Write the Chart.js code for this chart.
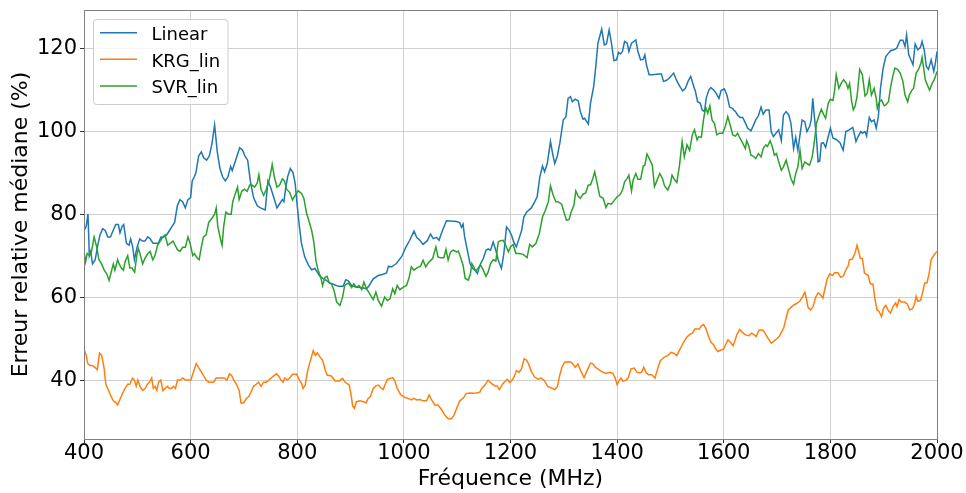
<!DOCTYPE html>
<html>
<head>
<meta charset="utf-8">
<script src="https://cdn.jsdelivr.net/npm/chart.js@4"></script>
<style>
  html, body { margin: 0; padding: 0; background: #fff; }
  canvas { display: block; }
</style>
</head>
<body>
<canvas id="chart" width="966" height="493"></canvas>
<script>
// axis ticks
const xTicks = [400, 600, 800, 1000, 1200, 1400, 1600, 1800, 2000];
const yTicks = [40, 60, 80, 100, 120];
const seriesNames = ['Linear', 'KRG_lin', 'SVR_lin'];

// [frequency MHz, median relative error %]
const linear = [
  [400, 76], [404, 77], [407.5, 80], [410, 70], [412.5, 71], [416, 68], [421, 69], [425, 72], [430, 75], [435, 76.5],
  [440, 76], [444.5, 74.5], [449.5, 74.5], [454.5, 76], [459.5, 77.5], [464.5, 77.5], [467.5, 75.5], [471.5, 77], [474.5, 77.5], [479.5, 73],
  [484.5, 72.5], [487.5, 74], [491.5, 72], [494.5, 69], [499.5, 72], [504.5, 74], [509.5, 73.5], [514.5, 73.5], [519.5, 74.5], [524.5, 74],
  [529.5, 73], [539.5, 73], [544.5, 74.5], [549.5, 74.5], [555, 75], [560, 76], [565, 77], [570, 78], [575, 82], [580, 83.5],
  [585, 83], [590, 81.5], [595, 83.5], [600, 84], [603, 88], [607, 89], [610, 90], [615, 94], [620, 95], [625, 93.5],
  [630, 93], [635, 94], [640, 97], [645, 101.5], [650, 95], [655, 91], [660, 89], [665, 88], [670, 89], [675, 91.5],
  [678, 90.5], [682, 92], [687, 94], [692, 96], [697, 95.5], [702, 94], [707, 93], [712, 88], [718, 84], [725, 82],
  [731, 81.5], [740, 81], [745, 88], [750, 86.5], [756, 84], [762, 81.5], [767, 82.5], [772, 83.5], [775, 83], [778, 86],
  [782, 89], [787, 91], [792, 90], [796, 87.5], [800, 82], [804, 77], [808, 72.9], [814, 69.7], [821, 67.7], [827, 66.6],
  [833, 66.9], [837.5, 66], [842.5, 65], [849, 64.4], [855, 64], [861, 63.4], [867.5, 63.1], [877, 62.6], [886, 62.6], [891, 64.2],
  [895.6, 63.9], [902, 62.8], [911, 62.4], [921, 62.3], [930, 62], [935, 62.8], [942.5, 64.4], [952, 65.2], [961, 65.5], [967.5, 65.8],
  [971, 67.4], [977, 67.3], [986, 68.1], [996, 69.8], [1004, 72.1], [1011, 73.7], [1019, 75.9], [1024, 74.4], [1030, 73.7], [1036, 72.7],
  [1044, 73.6], [1050, 75.2], [1055, 74.1], [1061, 74.4], [1066, 73.7], [1072.5, 76.1], [1080, 78.4], [1092.5, 78.3], [1099, 78.2], [1105, 77.9],
  [1108, 76.8], [1111, 77.6], [1114, 74.5], [1119, 71.3], [1124, 68.1], [1129, 66.9], [1133, 66.5], [1138, 65.7], [1142.5, 67.7], [1149, 69.3],
  [1154, 71.3], [1158, 71.6], [1162.5, 71.3], [1167.5, 73.3], [1172.5, 71.3], [1177, 68.9], [1183, 66.9], [1187.5, 70.5], [1192.5, 76.9], [1197.5, 76.1],
  [1202, 74.9], [1206, 73.3], [1211, 72.1], [1216, 74.1], [1221, 76.1], [1225, 79.3], [1231, 80.6], [1239, 81.5], [1245.6, 83], [1250, 84.2],
  [1255, 89], [1260, 91.6], [1264, 90.2], [1269, 92.2], [1275, 97.5], [1279, 94.6], [1283, 92.2], [1287.5, 93.8], [1292.5, 97.1], [1299, 102.7],
  [1304, 103.5], [1308, 107.9], [1312.5, 108.3], [1316, 107.1], [1321, 107.7], [1327, 107.3], [1331, 104.7], [1336, 102.9], [1339, 103.1], [1346, 101.7],
  [1350, 106.7], [1356, 110.7], [1360, 115.6], [1364, 121.2], [1371, 124.6], [1376, 120.8], [1380, 121], [1385, 124.4], [1389, 121.5], [1394, 117],
  [1399, 117.2], [1402.5, 119], [1406, 118.6], [1410, 119.2], [1414, 121.6], [1419, 121.2], [1422, 119.2], [1427, 121.2], [1431, 121.6], [1435, 122],
  [1439, 119.2], [1444, 117.2], [1449, 117.3], [1452, 118.4], [1455, 116], [1460, 113.6], [1467, 113.6], [1477, 113.8], [1483, 113.8], [1487, 112],
  [1492, 112.2], [1498, 112.8], [1506, 114], [1511, 112.4], [1517, 110.9], [1523, 109.7], [1528, 110.3], [1533, 112], [1538, 113.2], [1542, 111.5],
  [1547, 109.5], [1551, 107.1], [1556, 106.7], [1559.5, 105.1], [1564, 104.7], [1567, 107.9], [1572, 109.9], [1576, 110.5], [1581, 109.9], [1586, 109.1],
  [1591, 107.9], [1595, 109.8], [1601, 110.2], [1606, 108.7], [1611, 105.8], [1616, 105.5], [1622, 104.7], [1626, 103.9], [1630.5, 103.3], [1635.5, 103.3],
  [1640.5, 102], [1645, 100.7], [1651, 100.1], [1655, 101.2], [1660, 102.7], [1665, 103.7], [1670, 105.8], [1674, 104.1], [1679, 105.1], [1685, 105.1],
  [1689, 99.9], [1693, 98.7], [1698, 99.5], [1703, 100.3], [1708, 97.7], [1712, 103.9], [1717, 104.7], [1722, 103.9], [1726, 101.9], [1731, 95.8],
  [1735, 98.5], [1739, 95.4], [1743, 99.1], [1747, 102.7], [1752, 102.3], [1756, 99.9], [1761, 101.1], [1764, 102.7], [1767, 107.9], [1770, 103.5],
  [1774, 98.3], [1777, 92.6], [1780, 92.8], [1783, 97.1], [1787, 97.2], [1791, 96.1], [1796, 98.7], [1800, 100.7], [1805, 98.3], [1811, 98],
  [1818, 97.2], [1824, 95.4], [1829, 99.9], [1835, 100.3], [1842, 100.9], [1844, 99.9], [1848, 97.5], [1852, 98.7], [1857, 99.9], [1860, 99.5],
  [1865, 99.9], [1868, 98.8], [1873, 103.3], [1877, 102.3], [1882, 102.7], [1886, 100.7], [1890, 103.5], [1894, 110.3], [1899, 115.2], [1904, 118],
  [1909, 118.8], [1913, 119.4], [1919, 119.6], [1924.5, 120], [1931, 121.9], [1936, 121.9], [1940, 120.4], [1943, 123.2], [1947, 118.4], [1951, 117.2],
  [1955, 116], [1959, 121], [1964, 119.6], [1969, 120.2], [1972, 121.6], [1976, 119.6], [1980, 115.6], [1984, 114.9], [1989, 117.2], [1994, 114.4],
  [1997, 116.4], [2000, 119.2]
];

const krgLin = [
  [400, 47.5], [404, 46], [407, 44], [411, 43.5], [416, 43.5], [421, 43], [425, 42.5], [429, 46.5], [433, 46], [437.5, 43],
  [441, 39], [446, 37.5], [451, 36], [455, 35], [460, 34.5], [463, 34], [468, 35.5], [473, 37], [477, 38], [482, 39],
  [486, 39], [491, 40.5], [494.5, 40], [498, 38.5], [501, 40], [505, 38.5], [510, 37.5], [515, 38], [519, 39], [523, 39.5],
  [527, 40.5], [530, 38], [533.5, 38.5], [536.5, 37.5], [540, 39.5], [544, 40], [548, 37.5], [552, 38], [556.5, 38.5], [560, 38],
  [563.5, 38], [568, 38.5], [571.5, 38], [575.5, 40], [580.5, 40], [585.5, 40.5], [590, 40], [596, 40], [600.5, 40], [605.5, 42],
  [610.5, 44], [615, 43], [620, 42], [624.5, 41], [629, 40], [634, 39.5], [639, 39.5], [643, 39.5], [648, 40.5], [652.5, 40.5],
  [657.5, 40.5], [663, 40.5], [668, 40], [673, 41.5], [677.5, 41], [681, 40], [686, 39], [691, 37.5], [694.5, 34.5], [699.5, 34.5],
  [704, 35.5], [709, 36], [713, 37], [718, 38.5], [723, 39], [727.5, 39.5], [732, 38.5], [737, 39.5], [741.5, 39.5], [746.5, 40],
  [751, 40.5], [756, 41], [761, 41.5], [765, 41], [769.5, 40], [773.5, 39.5], [776.5, 40.5], [781, 40], [786, 40.5], [791, 41.4],
  [799, 41.4], [804, 40], [808, 39.2], [811, 38], [815, 38.8], [819, 42], [824, 44.4], [830, 47.1], [834, 46], [837.5, 46.6],
  [842.5, 45.6], [847.5, 44.8], [852, 42.6], [856, 41.2], [864, 41], [871, 39.8], [879, 39.8], [885, 40.4], [889, 39.6], [897.5, 38.8],
  [901, 36.4], [904, 33.7], [907, 33.2], [911, 34.8], [917.5, 35], [924, 34.8], [929, 34.5], [933, 35.6], [937.5, 36.1], [942.5, 38],
  [947.5, 38.6], [952.5, 38.8], [956, 38.2], [961, 37.7], [969, 40.2], [974, 40.4], [979, 40.6], [983, 39.8], [987.5, 38], [994, 36.5],
  [1002, 35.8], [1008, 35.6], [1014, 35.2], [1019, 35.6], [1024, 35.2], [1030, 35.3], [1036, 35], [1042.5, 35], [1047.5, 36.4], [1052, 35.2],
  [1058, 34], [1064, 34], [1071, 32.8], [1077, 31.5], [1083, 30.7], [1089, 30.7], [1094, 31.5], [1099, 33.2], [1105, 35], [1111, 35.6],
  [1117.5, 36.8], [1124, 36.9], [1130, 36.8], [1136, 36.9], [1142.5, 37.1], [1146, 38], [1152, 38.8], [1158, 40], [1164, 39.2], [1171, 38.6],
  [1175, 38.6], [1179, 37.7], [1186, 39.2], [1194, 40.2], [1199, 39.4], [1203, 40], [1207, 40.8], [1211, 42.3], [1216, 41.9], [1220.5, 42.7],
  [1225.5, 45.1], [1230, 44.8], [1234, 43.9], [1239, 42.1], [1245, 40.8], [1252, 40.2], [1258, 40.5], [1264, 39.8], [1270, 38.4], [1277, 38.1],
  [1283, 37.7], [1288, 38.4], [1292, 41], [1296.5, 43.1], [1301.5, 44.3], [1308, 44.4], [1314, 44.3], [1321.5, 43.1], [1326.5, 43.9], [1331.5, 42.3],
  [1338, 40.6], [1344, 42.4], [1350, 44.1], [1354.5, 43.9], [1359, 43.1], [1364, 42.7], [1370, 42.1], [1379, 41.6], [1386, 41.9], [1392, 41.6],
  [1396, 40.6], [1400, 38.9], [1404, 40], [1407.5, 40.5], [1411, 39.7], [1417, 40], [1421, 40.6], [1426, 42.7], [1432, 42.9], [1437, 41.9],
  [1442, 41.7], [1446, 41.9], [1450, 43.1], [1454, 41.9], [1459, 41.3], [1465, 41.3], [1471, 40.5], [1476, 42.7], [1481, 44.7], [1488, 45.5],
  [1495, 45.9], [1501, 46.7], [1507, 46.4], [1512, 45.9], [1516.5, 47.1], [1523, 48.7], [1529, 50.1], [1535, 50.9], [1541, 51.3], [1546, 52.3],
  [1554, 52.3], [1558, 53.1], [1562, 53.4], [1566, 52.6], [1571, 50.7], [1576, 49.1], [1581, 48.5], [1585, 47.5], [1589, 46.9], [1594, 47.2],
  [1600, 47.5], [1604, 48.7], [1608, 49.7], [1612.5, 49.1], [1617.5, 48.3], [1621, 49.5], [1625, 51.1], [1630, 52.2], [1635, 51.5], [1641, 50.9],
  [1647.5, 50.7], [1652, 51.3], [1656, 51], [1661, 50.5], [1666, 52], [1671, 52.1], [1675, 51.8], [1680, 50.7], [1685, 49.7], [1689, 48.9],
  [1694, 49.4], [1699, 49.9], [1704, 50.5], [1708, 51.5], [1712.5, 52.6], [1717.5, 55.2], [1721, 56.9], [1725, 57.4], [1730, 58], [1736, 58.4],
  [1742.5, 59], [1747.5, 60], [1752, 61.2], [1755, 59.6], [1758, 57.6], [1762.5, 56.9], [1767.5, 57.7], [1772.5, 60], [1777, 61], [1781, 60.6],
  [1786, 59.8], [1789, 61.6], [1794, 64.4], [1799, 65.6], [1804, 65.2], [1808, 65.9], [1814, 65.9], [1819, 64.8], [1824, 65], [1829, 66.6],
  [1833, 67.4], [1836, 69], [1841, 69.1], [1846, 70.5], [1850, 72.5], [1854, 70.5], [1856, 69.3], [1860, 69.3], [1864, 65.8], [1871, 65.2],
  [1875, 63.2], [1880, 63.1], [1883, 60], [1887.5, 56.9], [1891, 56.6], [1896, 55.3], [1900, 57.4], [1904, 58], [1908, 56.9], [1912.5, 56.1],
  [1917.5, 57.7], [1922.5, 58.6], [1925, 57.7], [1929, 59.4], [1933, 58.8], [1939, 58.8], [1944, 58.4], [1949, 56.9], [1954, 57.2], [1958, 58.4],
  [1961, 60.2], [1964, 59], [1969, 59.2], [1972.5, 60.8], [1977, 63.4], [1981, 63.4], [1985, 65.5], [1989, 69], [1994, 70.1], [2000, 71]
];

const svrLin = [
  [400, 71], [403, 68.5], [406, 70.5], [410, 70], [414, 71], [419, 74.5], [424, 72], [428, 69], [433, 68], [438, 66.5],
  [443, 65.5], [447, 64], [451, 66], [455, 68], [458, 66.5], [463, 69], [466, 68], [470, 67], [474, 66.5], [477, 68.5],
  [482, 70], [486, 67], [490, 67], [495, 66], [499, 70], [502, 71.7], [505, 70.5], [510, 68], [515, 69.5], [520, 70.5],
  [524, 71], [529, 69], [533, 70], [538, 72.5], [543, 73.5], [548, 74.5], [552, 75], [557, 72.5], [562, 73], [567, 73.5],
  [571, 72.5], [575, 71.5], [580, 71], [585, 72], [590, 72], [595, 74.5], [599, 73], [604, 70], [607, 70.5], [612, 69.5],
  [616, 69], [620, 72], [624, 74.5], [629, 75], [634, 78], [640, 79], [645, 80], [648, 81.5], [651, 77], [656, 74],
  [659, 72.5], [662, 77], [666, 80.5], [671, 80], [676, 80], [679, 83], [684, 85], [688, 86.5], [691, 83.5], [696, 85.5],
  [701, 86], [706, 85.5], [711, 87], [715, 87], [720, 86.5], [725, 87.5], [728, 89.5], [732, 86], [737, 84.5], [742, 86],
  [747, 88], [751, 90.5], [753, 92], [757, 89], [762, 86.5], [767, 87], [772, 88.5], [776, 88], [780, 86], [786, 85.2],
  [791, 83.4], [796, 84.6], [802, 85.6], [808, 85], [812.5, 83.8], [817.5, 80.2], [822.5, 78.1], [827, 76.1], [831, 73.3], [835, 68.9],
  [839, 66.5], [844, 64.8], [847.5, 62.8], [852, 64.8], [856, 65], [860, 63.4], [864, 63.2], [869, 61.6], [874, 58.8], [880, 58],
  [885, 60], [889, 62.8], [896, 63.4], [902, 62.3], [906, 63.2], [911, 62.4], [916, 62.8], [921, 61.8], [925, 63.6], [930, 62],
  [936, 60.8], [942.5, 59.4], [947.5, 61.2], [952, 59.2], [958, 57.8], [964, 60], [969, 59.2], [974, 59.6], [979, 62], [983, 60.8],
  [987.5, 62.8], [992.5, 61.8], [999, 62.4], [1005, 62.8], [1010, 64.8], [1014, 67.3], [1019, 66.5], [1025, 67.1], [1031, 67.4], [1036, 68.9],
  [1041, 67.3], [1047.5, 68.5], [1054, 69.3], [1060, 72.1], [1064, 69.7], [1069, 69.5], [1075, 69.5], [1079, 71.5], [1083, 68.9], [1087.5, 70.9],
  [1092.5, 71.3], [1099, 70.9], [1102, 71.1], [1106, 69.7], [1111, 67.7], [1115, 64.5], [1121, 64.1], [1125, 65.7], [1127.5, 68.1], [1131, 67.3],
  [1135, 66.3], [1139, 66.9], [1144, 67.7], [1149, 66.5], [1154, 65], [1158, 66], [1162.5, 68.1], [1167.5, 69], [1172.5, 68.7], [1177, 73.3],
  [1181, 73.6], [1186, 73.7], [1191, 72.5], [1196, 70.9], [1200, 72.1], [1205, 72.7], [1210, 70.5], [1216, 70.5], [1224, 70.3], [1231, 69.5],
  [1236, 72.7], [1241, 72.1], [1247.5, 72.9], [1254, 75.3], [1260, 79.3], [1266, 81.1], [1271, 83], [1275, 86.8], [1280, 84.6], [1285, 83],
  [1289, 83], [1296, 82.4], [1300, 80.6], [1305, 78.5], [1310, 78.7], [1314, 80.6], [1319, 82.2], [1322.5, 85.6], [1327, 84.3], [1331, 83.8],
  [1336, 84.8], [1341, 85.1], [1346, 87], [1350, 87], [1354, 88.4], [1358, 90.2], [1362.5, 87.4], [1367.5, 84.3], [1374, 83.8], [1379, 81.6],
  [1383, 82.6], [1389, 82.4], [1394, 83.2], [1400, 84.2], [1405, 84.6], [1410, 85.8], [1414, 87.8], [1419, 88.6], [1422, 89.4], [1427, 85.6],
  [1430, 88.2], [1435, 89.8], [1439, 88.4], [1444, 88.4], [1449, 91.6], [1452, 91.8], [1456, 94.5], [1461, 93.2], [1466, 91.8], [1470, 86.6],
  [1475, 88.2], [1480, 89.8], [1485, 88.6], [1489, 86.8], [1495, 85.8], [1500, 87.4], [1503, 89.4], [1508, 88.2], [1512, 87.6], [1517, 91.8],
  [1522, 97.5], [1526, 93.8], [1531, 96.7], [1536, 95.4], [1541, 99.1], [1545, 100.3], [1550, 97.9], [1553, 98.7], [1558, 98.5], [1562, 102.7],
  [1566, 105.8], [1570, 104.3], [1574, 106.1], [1578, 102.7], [1582.5, 101.9], [1587, 99.1], [1592, 99.5], [1598, 99.5], [1603, 101.2], [1607.5, 103.5],
  [1612, 101.5], [1617, 99.1], [1622, 98.8], [1626, 99.5], [1630.5, 98.3], [1635.5, 97.1], [1640.5, 95.8], [1643, 97.7], [1647, 96.4], [1651, 94.2],
  [1655, 94], [1660, 93.4], [1665, 94.6], [1670, 93.8], [1674, 95.8], [1679, 96.7], [1682, 96.3], [1687, 97.7], [1691, 96.3], [1695, 94.2],
  [1699, 94.6], [1703, 92.6], [1708, 90.6], [1712, 91.4], [1717, 93], [1722, 90.6], [1726, 88.6], [1731, 87.2], [1735, 89.8], [1739, 91.4],
  [1743, 95.4], [1747, 91], [1752, 92.6], [1756, 92.2], [1761, 91.8], [1766, 93.8], [1770, 97.5], [1774, 101.9], [1779, 103.9], [1783, 105.3],
  [1787, 104.1], [1791, 103.1], [1796, 106.7], [1800, 107.7], [1805, 107.4], [1808, 109.9], [1811, 113.6], [1816, 110.3], [1821, 111.7], [1825, 112.4],
  [1830, 111.5], [1833, 110.3], [1836, 111.5], [1840, 107.1], [1843, 105.1], [1846, 105.9], [1850, 108.3], [1855, 114.9], [1860, 113.6], [1865, 108.5],
  [1869, 109.1], [1873, 112.4], [1877, 108.7], [1882, 110.3], [1886, 107.9], [1888, 105.5], [1892, 107.1], [1896, 107.5], [1901, 106.1], [1904, 106.3],
  [1909, 107.1], [1913, 110.7], [1917, 113.2], [1921, 115.2], [1926, 114.9], [1931, 114], [1936, 112], [1940, 108.7], [1945, 107.1], [1948, 108.7],
  [1953, 109.9], [1956, 110.3], [1961, 114], [1965, 114.8], [1970, 116.4], [1972, 117.8], [1975, 115.2], [1978, 112.4], [1982, 111.1], [1986, 109.9],
  [1991, 111.5], [1995, 112.4], [2000, 114.4]
];

const colors = ['#1f77b4', '#ff7f0e', '#2ca02c'];
const FONT = '"DejaVu Sans", sans-serif';

const toPoints = arr => arr.map(p => ({ x: p[0], y: p[1] }));

// spines on all four sides plus a matplotlib-like framed legend inside the plot
const frameAndLegend = {
  id: 'frameAndLegend',
  afterDatasetsDraw(chart) {
    const { ctx, chartArea: a } = chart;
    ctx.save();
    ctx.strokeStyle = '#808080';
    ctx.lineWidth = 1;
    ctx.strokeRect(a.left + 0.5, a.top + 0.5, a.right - a.left, a.bottom - a.top);

    const bx = 93.5, by = 19.5, bw = 134.5, bh = 85;
    ctx.beginPath();
    ctx.roundRect(bx, by, bw, bh, 3);
    ctx.fillStyle = 'rgba(255,255,255,0.8)';
    ctx.fill();
    ctx.strokeStyle = '#cccccc';
    ctx.stroke();

    ctx.font = '18px ' + FONT;
    ctx.textAlign = 'left';
    ctx.textBaseline = 'alphabetic';
    chart.data.datasets.forEach((ds, i) => {
      const y = 32.7 + i * 26.6;
      ctx.beginPath();
      ctx.moveTo(100, y);
      ctx.lineTo(137, y);
      ctx.strokeStyle = ds.borderColor;
      ctx.lineWidth = 1.5;
      ctx.stroke();
      ctx.fillStyle = '#000';
      ctx.fillText(ds.label, 151.5, y + 7.5);
    });
    ctx.restore();
  }
};

new Chart(document.getElementById('chart').getContext('2d'), {
  type: 'line',
  data: {
    datasets: [
      { label: seriesNames[0], data: toPoints(linear), borderColor: colors[0], order: 2 },
      { label: seriesNames[1], data: toPoints(krgLin), borderColor: colors[1], order: 1 },
      { label: seriesNames[2], data: toPoints(svrLin), borderColor: colors[2], order: 0 }
    ]
  },
  options: {
    responsive: false,
    animation: false,
    devicePixelRatio: 1,
    layout: { padding: { top: 10, right: 29, left: 0, bottom: 0 } },
    elements: {
      point: { radius: 0 },
      line: { borderWidth: 1.5, tension: 0, fill: false }
    },
    plugins: {
      legend: { display: false },
      tooltip: { enabled: false }
    },
    scales: {
      x: {
        type: 'linear',
        min: 400,
        max: 2000,
        afterBuildTicks: s => { s.ticks = xTicks.map(v => ({ value: v })); },
        afterFit: s => { s.height = 54; },
        border: { display: false },
        grid: { color: '#d0d0d0', lineWidth: 1, tickLength: 4, tickColor: '#333', tickWidth: 1 },
        ticks: {
          font: { family: FONT, size: 21, lineHeight: 1 },
          color: '#000', padding: 0, maxRotation: 0, autoSkip: false,
          callback: v => String(v)
        },
        title: {
          display: true, text: 'Fréquence (MHz)', color: '#000',
          font: { family: FONT, size: 22, lineHeight: 1.2 },
          padding: { top: 0, bottom: 1 }
        }
      },
      y: {
        min: 25.8,
        max: 129.2,
        afterBuildTicks: s => { s.ticks = yTicks.map(v => ({ value: v })); },
        afterFit: s => { s.width = 84; s.paddingTop = 0; s.paddingBottom = 0; },
        border: { display: false },
        grid: { color: '#d0d0d0', lineWidth: 1, tickLength: 4, tickColor: '#333', tickWidth: 1 },
        ticks: {
          font: { family: FONT, size: 21, lineHeight: 1 },
          color: '#000', padding: 3,
          callback: v => String(v)
        },
        title: {
          display: true, text: 'Erreur relative médiane (%)', color: '#000',
          font: { family: FONT, size: 22, lineHeight: 1.2 },
          padding: { top: 8, bottom: 0 }
        }
      }
    }
  },
  plugins: [frameAndLegend]
});
</script>
</body>
</html>
